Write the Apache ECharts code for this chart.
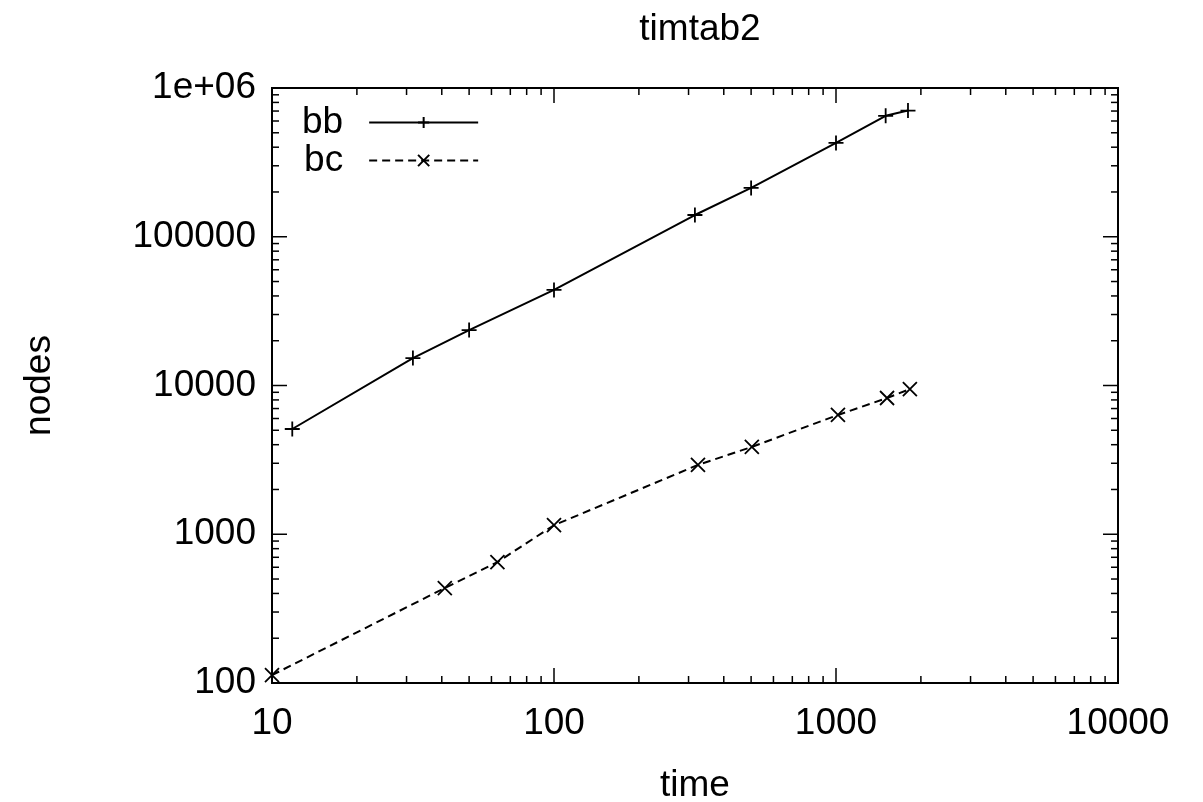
<!DOCTYPE html>
<html>
<head>
<meta charset="utf-8">
<script src="https://cdn.jsdelivr.net/npm/echarts@6/dist/echarts.min.js"></script>
<style>
html,body{margin:0;padding:0;background:#fff;}
#chart{width:1203px;height:802px;}
</style>
</head>
<body>
<div id="chart"></div>
<script>
// ---- data ----
const titleText = 'timtab2';
const xName = 'time';
const yName = 'nodes';
const seriesNames = ['bb', 'bc'];
const bbTime  = [11.8, 31.6, 50, 100, 316, 500, 1000, 1500, 1800];
const bbNodes = [5100, 15300, 23600, 43900, 140000, 213000, 427000, 650000, 705000];
const bcTime  = [10, 41, 63, 100, 324, 503, 1016, 1517, 1828];
const bcNodes = [113, 435, 650, 1150, 2924, 3866, 6340, 8240, 9460];
const xMajorTicks = [10, 100, 1000, 10000];
const xTickLabels = ['10', '100', '1000', '10000'];
const yMajorTicks = [100, 1000, 10000, 100000, 1000000];
const yTickLabels = ['100', '1000', '10000', '100000', '1e+06'];
const xMinorTicks = [20,30,40,50,60,70,80,90,200,300,400,500,600,700,800,900,2000,3000,4000,5000,6000,7000,8000,9000];
const yMinorTicks = [200,300,400,500,600,700,800,900,2000,3000,4000,5000,6000,7000,8000,9000,
  20000,30000,40000,50000,60000,70000,80000,90000,200000,300000,400000,500000,600000,700000,800000,900000];

// ---- chart ----
const FONT = '"Liberation Sans", Arial, Helvetica, sans-serif';
const FS = 37;
const xMin = xMajorTicks[0], xMax = xMajorTicks[xMajorTicks.length - 1];
const yMin = yMajorTicks[0], yMax = yMajorTicks[yMajorTicks.length - 1];

const plusPath = 'path://M5,0L5,10M0,5L10,5';
const crossPath = 'path://M0,0L10,10M0,10L10,0';

function zip(a, b) { return a.map((v, i) => [v, b[i]]); }

const xTickData = xMajorTicks.map(v => [v, 1000, 1]).concat(xMinorTicks.map(v => [v, 1000, 0]));
const yTickData = yMajorTicks.map(v => [100, v, 1]).concat(yMinorTicks.map(v => [100, v, 0]));

function tickLine(x1, y1, x2, y2) {
  return { type: 'line', shape: { x1, y1, x2, y2 }, style: { stroke: '#000', lineWidth: 1.5 } };
}

const chart = echarts.init(document.getElementById('chart'), null, { renderer: 'canvas' });
chart.setOption({
  backgroundColor: '#fff',
  animation: false,
  textStyle: { fontFamily: FONT, color: '#000' },
  title: {
    text: titleText, left: 695, top: 6, textAlign: 'center',
    textStyle: { fontFamily: FONT, fontSize: FS, fontWeight: 'normal', color: '#000' }
  },
  legend: {
    orient: 'vertical', left: 302, top: 104, padding: 0,
    align: 'right', itemWidth: 109, itemHeight: 14, itemGap: 1,
    textStyle: { fontFamily: FONT, fontSize: FS, color: '#000', padding: [0, 21, 0, 0] },
    data: seriesNames
  },
  grid: {
    left: 272, right: 85, top: 88, bottom: 119,
    outerBoundsMode: 'none', containLabel: false,
    show: true, borderColor: '#000', borderWidth: 2, backgroundColor: 'transparent'
  },
  xAxis: {
    type: 'log', logBase: 10, min: xMin, max: xMax,
    name: xName, nameLocation: 'middle', nameGap: 84,
    nameTextStyle: { fontFamily: FONT, fontSize: FS, color: '#000' },
    axisLine: { show: false }, axisTick: { show: false }, splitLine: { show: false },
    minorTick: { show: false },
    axisLabel: {
      fontFamily: FONT, fontSize: FS, color: '#000', margin: 22,
      formatter: v => { const i = xMajorTicks.findIndex(t => Math.abs(t - v) / t < 1e-6); return i >= 0 ? xTickLabels[i] : ''; }
    }
  },
  yAxis: {
    type: 'log', logBase: 10, min: yMin, max: yMax,
    name: yName, nameLocation: 'middle', nameGap: 214, nameRotate: 90,
    nameTextStyle: { fontFamily: FONT, fontSize: FS, color: '#000' },
    axisLine: { show: false }, axisTick: { show: false }, splitLine: { show: false },
    axisLabel: {
      fontFamily: FONT, fontSize: FS, color: '#000', margin: 16,
      formatter: v => { const i = yMajorTicks.findIndex(t => Math.abs(t - v) / t < 1e-6); return i >= 0 ? yTickLabels[i] : ''; }
    }
  },
  series: [
    {
      name: seriesNames[0], type: 'line', data: zip(bbTime, bbNodes),
      symbol: plusPath, symbolSize: 15, showSymbol: true,
      lineStyle: { color: '#000', width: 2, type: 'solid' },
      itemStyle: { color: 'transparent', borderColor: '#000', borderWidth: 1.8 },
      z: 3
    },
    {
      name: seriesNames[1], type: 'line', data: zip(bcTime, bcNodes),
      symbol: crossPath, symbolSize: 14, showSymbol: true,
      lineStyle: { color: '#000', width: 2, type: [8, 5] },
      itemStyle: { color: 'transparent', borderColor: '#000', borderWidth: 1.8 },
      z: 3
    },
    {
      type: 'custom', silent: true, data: xTickData, z: 4,
      renderItem: (params, api) => {
        const v = api.value(0); const len = api.value(2) ? 15 : 7;
        const b = api.coord([v, yMin]); const t = api.coord([v, yMax]);
        return { type: 'group', children: [tickLine(b[0], b[1], b[0], b[1] - len), tickLine(t[0], t[1], t[0], t[1] + len)] };
      }
    },
    {
      type: 'custom', silent: true, data: yTickData, z: 4,
      renderItem: (params, api) => {
        const v = api.value(1); const len = api.value(2) ? 15 : 7;
        const l = api.coord([xMin, v]); const r = api.coord([xMax, v]);
        return { type: 'group', children: [tickLine(l[0], l[1], l[0] + len, l[1]), tickLine(r[0], r[1], r[0] - len, r[1])] };
      }
    }
  ]
});
</script>
</body>
</html>
